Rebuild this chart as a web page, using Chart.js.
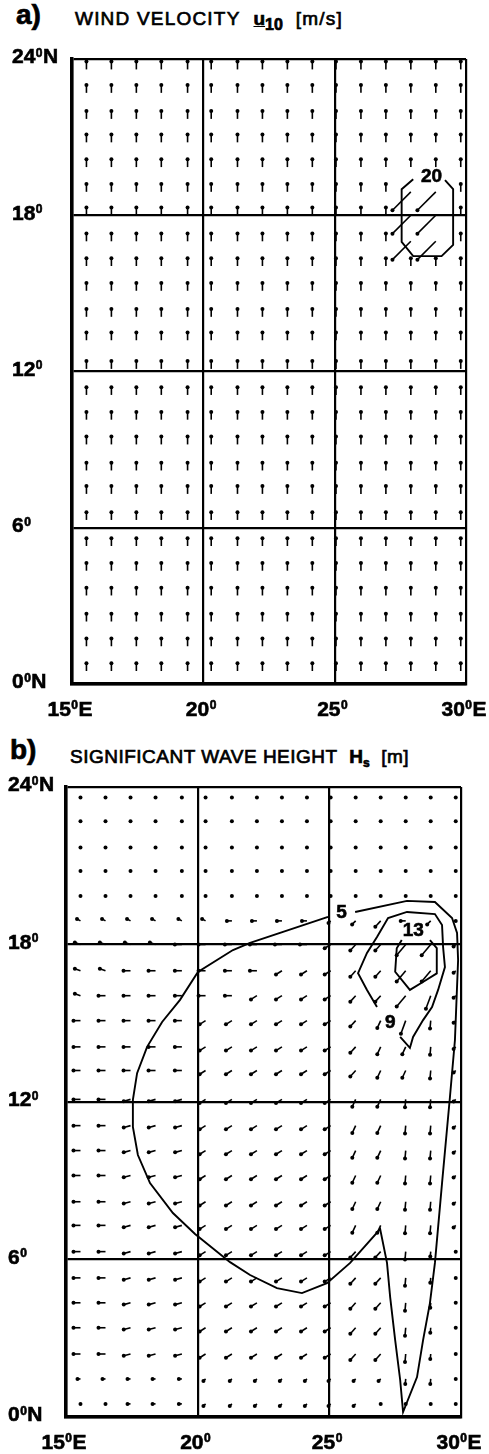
<!DOCTYPE html>
<html>
<head>
<meta charset="utf-8">
<script src="https://cdn.jsdelivr.net/npm/chart.js@4"></script>
<style>
  body { margin: 0; background: #fff; width: 489px; height: 1454px; position: relative; overflow: hidden; }
  canvas { position: absolute; left: 0; }
  .ttl { position: absolute; white-space: nowrap; color: #000; font-family: "Liberation Sans", Arial, sans-serif; line-height: 1; -webkit-text-stroke: 0.7px #000; }
  .ttl sub { line-height: 0; }
</style>
</head>
<body>
<div class="ttl" style="left:16px; top:1px; font-size:28px; font-weight:bold;">a)</div>
<div class="ttl" style="left:75px; top:9px; font-size:19px; letter-spacing:1.2px;">WIND VELOCITY&nbsp;&nbsp;<b style="letter-spacing:0"><u>u</u><sub style="font-size:16px; vertical-align:-5px">10</sub></b>&nbsp;&nbsp;[m/s]</div>
<div class="ttl" style="left:10px; top:736px; font-size:28px; font-weight:bold;">b)</div>
<div class="ttl" style="left:70px; top:747px; font-size:19px; letter-spacing:0.5px;">SIGNIFICANT WAVE HEIGHT&nbsp;&nbsp;<b style="letter-spacing:0">H<sub style="font-size:12px; vertical-align:-4px">s</sub></b>&nbsp;&nbsp;[m]</div>

<canvas id="windChart" width="489" height="730" style="top:0"></canvas>
<canvas id="waveChart" width="489" height="724" style="top:730px"></canvas>

<script>
// eixos
const X_TICKS = [15, 20, 25, 30];
const X_LABELS = ['15ºE', '20º', '25º', '30ºE'];
const Y_TICKS = [0, 6, 12, 18, 24];
const Y_LABELS = ['0ºN', '6º', '12º', '18º', '24ºN'];

// pontos da grade (longitude / latitude)
const LONS = [15.55, 16.5, 17.45, 18.4, 19.4, 20.3, 21.3, 22.25, 23.2, 24.15, 25.05, 26.0, 26.95, 27.9, 28.85, 29.8];
const LATS = [23.6, 22.7, 21.7, 20.8, 19.85, 18.9, 18.0, 17.0, 16.05, 15.1, 14.1, 13.2, 12.1, 11.1, 10.15, 9.2, 8.2, 7.3, 6.3, 5.3, 4.35, 3.4, 2.4, 1.45, 0.5];

// vento: codigo -> [velocidade, direcao em graus]
const WIND_CODES = { n: [6, 90], B: [20, 225] };
const WIND_ROWS = [
  'nnnnnnnnnnnnnnnn', 'nnnnnnnnnnnnnnnn', 'nnnnnnnnnnnnnnnn', 'nnnnnnnnnnnnnnnn',
  'nnnnnnnnnnnnnnnn', 'nnnnnnnnnnnnnBBn', 'nnnnnnnnnnnnnBBn', 'nnnnnnnnnnnnnBBn',
  'nnnnnnnnnnnnnnnn', 'nnnnnnnnnnnnnnnn', 'nnnnnnnnnnnnnnnn', 'nnnnnnnnnnnnnnnn',
  'nnnnnnnnnnnnnnnn', 'nnnnnnnnnnnnnnnn', 'nnnnnnnnnnnnnnnn', 'nnnnnnnnnnnnnnnn',
  'nnnnnnnnnnnnnnnn', 'nnnnnnnnnnnnnnnn', 'nnnnnnnnnnnnnnnn', 'nnnnnnnnnnnnnnnn',
  'nnnnnnnnnnnnnnnn', 'nnnnnnnnnnnnnnnn', 'nnnnnnnnnnnnnnnn', 'nnnnnnnnnnnnnnnn',
  'nnnnnnnnnnnnnnnn'
];

// ondas: codigo -> [tamanho, direcao em graus]
const WAVE_CODES = {
  '.': [0, 0], t: [3, 180], y: [3, 225], q: [4, 150], Q: [6, 160],
  w: [5, 180], W: [7, 180], x: [7, 195], z: [7, 212], u: [5, 225],
  v: [8, 228], s: [8, 245], S: [8, 265], d: [5, 265], V: [14, 230], L: [14, 250]
};
const WAVE_ROWS = [
  '................', '................', '................', '................',
  '................', 'qqqqqqwwwwyuvwu.', 'QQQQWWWWWWzvvVVy', 'QQWWWWWWzzzvvVVy',
  'QWWWWWWzzzzvvVLy', 'WWWWWzzzzzzvsLSy', 'WWWWWzzzzzzvssSy', 'WWWWWzzzzzzvssSy',
  'WWxxxzzzzzzssSSy', 'WWxxxzzzzzzssSSy', 'WWxxxzzzzzzssSSy', 'WWxxxzzzzzzssSSy',
  'WWxxxzzzzzzssSSy', 'WWxxxzzzzzzssSSy', 'WWxxxzzzzzzvvSd.', 'WWxxxzzzzzzvvSd.',
  'WWxxxzzzzzzvvSd.', 'WWxxxzzzzzzvvSd.', 'WWxxxzzzzzzvvSd.', 'tttttyyyyyyyydd.',
  '..tttyyyyyyy....'
];

// isolinhas [lon, lat]
const WIND_C20 = [[27.99, 19.38], [27.55, 19.0], [27.55, 16.98], [27.99, 16.43], [29.07, 16.43],
  [29.51, 16.86], [29.51, 19.0], [29.2, 19.35]];
const WAVE_C5 = [[25.98, 19.24], [27.95, 19.66], [29.01, 19.62], [29.66, 19.01], [29.85, 18.44],
  [29.89, 17.41], [29.77, 14.36], [29.58, 12.19], [29.28, 8.91], [29.01, 5.87], [28.82, 4.34],
  [28.56, 2.93], [28.33, 1.52], [27.80, 0.19], [27.69, 1.41], [27.50, 2.93], [27.31, 4.57],
  [27.19, 5.87], [26.93, 7.16], [25.79, 5.87], [24.91, 5.10], [23.96, 4.72], [23.01, 4.91],
  [21.99, 5.41], [21.23, 5.90], [19.90, 6.97], [19.06, 7.77], [18.19, 8.91], [17.73, 9.98],
  [17.54, 11.05], [17.54, 12.08], [17.70, 13.10], [18.08, 14.10], [18.65, 15.05], [19.33, 15.89],
  [20.01, 16.95], [21.34, 17.79], [21.99, 18.06], [24.95, 19.05]];
const WAVE_C9 = [[26.81, 15.62], [26.43, 16.27], [26.09, 16.91], [26.43, 17.68], [26.81, 18.29],
  [27.23, 19.01], [27.95, 19.24], [29.01, 19.16], [29.28, 18.74], [29.32, 17.90], [29.39, 17.14],
  [29.13, 16.27], [28.90, 15.62], [28.56, 15.12], [28.18, 14.48], [28.06, 14.06], [27.69, 14.48]];
const WAVE_C13 = [[28.82, 18.17], [29.08, 17.86], [29.08, 16.90], [28.57, 16.58], [28.06, 16.27],
  [27.50, 16.96], [27.56, 17.86], [27.75, 18.17]];

// rotulos das isolinhas
const WIND_CLABELS = [{ text: '20', lon: 28.69, lat: 19.48 }];
const WAVE_CLABELS = [
  { text: '5', lon: 25.46, lat: 19.2 },
  { text: '13', lon: 28.19, lat: 18.53 },
  { text: '9', lon: 27.31, lat: 15.01 }
];

const FONT = '"Liberation Sans", Arial, sans-serif';

// desenha as setas a partir dos pontos da grade
function arrowPlugin(rows, codes, scale, dot) {
  return {
    id: 'arrows',
    afterDatasetsDraw(chart) {
      const { ctx, scales: { x, y } } = chart;
      ctx.save();
      ctx.strokeStyle = '#000';
      ctx.fillStyle = '#000';
      ctx.lineWidth = 1.6;
      rows.forEach((row, r) => {
        for (let c = 0; c < row.length; c++) {
          const [mag, dir] = codes[row[c]];
          const px = x.getPixelForValue(LONS[c]);
          const py = y.getPixelForValue(LATS[r]);
          const a = dir * Math.PI / 180;
          const tx = px + mag * scale * Math.cos(a);
          const ty = py - mag * scale * Math.sin(a);
          if (mag > 0) {
            ctx.beginPath();
            ctx.moveTo(px, py);
            ctx.lineTo(tx, ty);
            ctx.stroke();
          }
          ctx.beginPath();
          ctx.arc(tx, ty, dot, 0, Math.PI * 2);
          ctx.fill();
        }
      });
      ctx.restore();
    }
  };
}

// rotulos dos eixos com o "0" sobrescrito
function tickPlugin(xLabelY, yLabelX) {
  return {
    id: 'tickText',
    afterDraw(chart) {
      const { ctx, scales: { x, y } } = chart;
      ctx.save();
      ctx.fillStyle = '#000';
      ctx.strokeStyle = '#000';
      ctx.lineWidth = 0.6;
      ctx.textBaseline = 'middle';
      const big = 'bold 21px ' + FONT, small = 'bold 12px ' + FONT;
      const put = (t, px, py) => { ctx.fillText(t, px, py); ctx.strokeText(t, px, py); };
      const draw = (label, cx, cy, center) => {
        const [a, b] = label.split('º');
        ctx.font = big;
        const wa = ctx.measureText(a).width;
        const wb = ctx.measureText(b).width;
        ctx.font = small;
        const ws = ctx.measureText('0').width + 1;
        const left = center ? cx - (wa + ws + wb) / 2 : cx;
        ctx.font = big;
        put(a, left, cy);
        put(b, left + wa + ws, cy);
        ctx.font = small;
        put('0', left + wa + 0.5, cy - 4);
      };
      X_TICKS.forEach((v, i) => draw(X_LABELS[i], x.getPixelForValue(v) - 2, xLabelY, true));
      Y_TICKS.forEach((v, i) => draw(Y_LABELS[i], yLabelX, y.getPixelForValue(v) - 1.5, false));
      ctx.restore();
    }
  };
}

function contourLabelPlugin(labels) {
  return {
    id: 'contourLabels',
    afterDatasetsDraw(chart) {
      const { ctx, scales: { x, y } } = chart;
      ctx.save();
      ctx.fillStyle = '#000';
      ctx.strokeStyle = '#000';
      ctx.lineWidth = 0.6;
      ctx.font = 'bold 19px ' + FONT;
      ctx.textAlign = 'center';
      ctx.textBaseline = 'middle';
      labels.forEach(l => {
        const px = x.getPixelForValue(l.lon), py = y.getPixelForValue(l.lat);
        ctx.fillText(l.text, px, py);
        ctx.strokeText(l.text, px, py);
      });
      ctx.restore();
    }
  };
}

function contourDataset(pts) {
  return {
    data: pts.map(p => ({ x: p[0], y: p[1] })),
    showLine: true,
    borderColor: '#000',
    borderWidth: 1.9,
    pointRadius: 0,
    tension: 0,
    fill: false
  };
}

function makeOptions(pad) {
  return {
    responsive: false,
    animation: false,
    devicePixelRatio: 1,
    layout: { padding: { top: pad.top, right: pad.right, left: 0, bottom: 0 } },
    plugins: { legend: { display: false }, tooltip: { enabled: false } },
    scales: {
      x: {
        type: 'linear', min: 15, max: 30,
        afterBuildTicks: s => { s.ticks = X_TICKS.map(v => ({ value: v })); },
        ticks: { display: false },
        grid: { color: '#000', lineWidth: 2.2, drawTicks: false },
        border: { color: '#000', width: 3.5 },
        afterFit: s => { s.height = pad.bottom; }
      },
      y: {
        type: 'linear', min: 0, max: 24,
        afterBuildTicks: s => { s.ticks = Y_TICKS.map(v => ({ value: v })); },
        ticks: { display: false },
        grid: { color: '#000', lineWidth: 2.2, drawTicks: false },
        border: { color: '#000', width: 3.5 },
        afterFit: s => { s.width = pad.left; }
      }
    }
  };
}

// painel a) vento
new Chart(document.getElementById('windChart'), {
  type: 'scatter',
  data: { datasets: [contourDataset(WIND_C20)] },
  options: makeOptions({ top: 59, right: 23, left: 72, bottom: 46 }),
  plugins: [arrowPlugin(WIND_ROWS, WIND_CODES, 1.3, 2), contourLabelPlugin(WIND_CLABELS), tickPlugin(710, 12)]
});

// painel b) altura de onda
new Chart(document.getElementById('waveChart'), {
  type: 'scatter',
  data: { datasets: [contourDataset(WAVE_C5), contourDataset(WAVE_C9), contourDataset(WAVE_C13)] },
  options: makeOptions({ top: 57, right: 28, left: 66, bottom: 37 }),
  plugins: [arrowPlugin(WAVE_ROWS, WAVE_CODES, 1, 2), contourLabelPlugin(WAVE_CLABELS), tickPlugin(713, 8)]
});
</script>
</body>
</html>
